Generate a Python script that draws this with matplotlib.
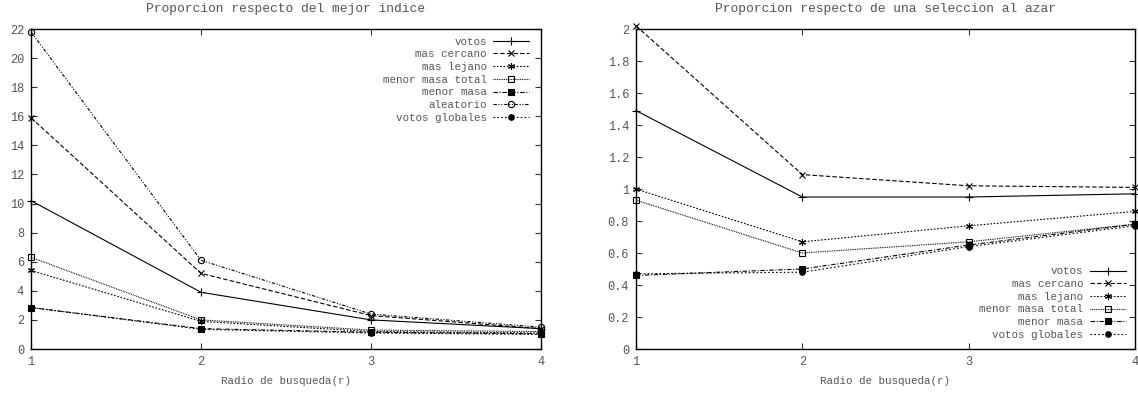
import matplotlib
matplotlib.use('Agg')
import matplotlib.pyplot as plt

plt.rcParams['font.family'] = ['Liberation Mono', 'DejaVu Sans Mono']
plt.rcParams['font.size'] = 7.8

radios = [1, 2, 3, 4]

# izquierda: proporcion respecto del mejor indice
izq_votos = [10.2, 3.9, 2.0, 1.4]
izq_cercano = [15.9, 5.2, 2.3, 1.4]
izq_lejano = [5.4, 1.9, 1.2, 1.1]
izq_masa_total = [6.3, 2.0, 1.3, 1.2]
izq_menor_masa = [2.85, 1.4, 1.15, 1.05]
izq_aleatorio = [21.8, 6.1, 2.4, 1.5]
izq_globales = [2.85, 1.35, 1.1, 1.0]

# derecha: proporcion respecto de una seleccion al azar
der_votos = [1.49, 0.95, 0.95, 0.97]
der_cercano = [2.02, 1.09, 1.02, 1.01]
der_lejano = [1.0, 0.67, 0.77, 0.86]
der_masa_total = [0.93, 0.60, 0.67, 0.78]
der_menor_masa = [0.46, 0.50, 0.65, 0.78]
der_globales = [0.47, 0.48, 0.64, 0.77]

estilos = {
    'votos': dict(ls='-', marker='+', ms=6, mfc='none'),
    'mas cercano': dict(ls=(0, (4, 2)), marker='x', ms=4, mfc='none'),
    'mas lejano': dict(ls=(0, (1.5, 1.5)), marker=(6, 2, 0), ms=5, mfc='none'),
    'menor masa total': dict(ls=(0, (0.8, 0.8)), marker='s', ms=4.5, mfc='none'),
    'menor masa': dict(ls=(0, (4, 1.5, 1, 1.5)), marker='s', ms=4.5, mfc='black'),
    'aleatorio': dict(ls=(0, (3, 1.5, 1, 1.5, 1, 1.5)), marker='o', ms=4.5, mfc='none'),
    'votos globales': dict(ls=(0, (1.5, 2)), marker='o', ms=4, mfc='black'),
}


def dibujar(ax, series, titulo, ymax, yticks, yfmt, loc, anchor):
    for nombre, valores in series:
        ax.plot(radios, valores, color='black', lw=0.8, mew=0.8, mec='black',
                label=nombre, clip_on=False, **estilos[nombre])
    ax.set_xlim(1, 4)
    ax.set_ylim(0, ymax)
    ax.set_xticks(radios)
    ax.set_yticks(yticks)
    ax.set_yticklabels([yfmt(v) for v in yticks])
    ax.tick_params(direction='in', top=True, right=True, length=4, width=0.8,
                   colors='#333333', labelcolor='#555555', labelsize=8.6, pad=5)
    for s in ax.spines.values():
        s.set_linewidth(1.0)
    ax.set_title(titulo, color='#555555', pad=12)
    ax.set_xlabel('Radio de busqueda(r)', color='#555555', labelpad=6)
    leg = ax.legend(loc=loc, bbox_to_anchor=anchor, frameon=False, markerfirst=False,
                    handlelength=3.3, handletextpad=0.6, labelspacing=0.25,
                    borderaxespad=0)
    for t in leg.get_texts():
        t.set_ha('right')
        t.set_color('#555555')
    leg._legend_box.align = 'right'


def fmt_izq(v):
    return '%d' % v


def fmt_der(v):
    return '%g' % round(v, 1)


fig = plt.figure(figsize=(11.38, 3.94), dpi=100)
ax1 = fig.add_axes([31 / 1138, 45 / 394, 510 / 1138, 320 / 394])
ax2 = fig.add_axes([636 / 1138, 45 / 394, 499 / 1138, 320 / 394])

dibujar(ax1, [('votos', izq_votos), ('mas cercano', izq_cercano),
              ('mas lejano', izq_lejano), ('menor masa total', izq_masa_total),
              ('menor masa', izq_menor_masa), ('aleatorio', izq_aleatorio),
              ('votos globales', izq_globales)],
        'Proporcion respecto del mejor indice', 22, list(range(0, 23, 2)), fmt_izq,
        'upper right', (0.985, 0.99))

dibujar(ax2, [('votos', der_votos), ('mas cercano', der_cercano),
              ('mas lejano', der_lejano), ('menor masa total', der_masa_total),
              ('menor masa', der_menor_masa), ('votos globales', der_globales)],
        'Proporcion respecto de una seleccion al azar', 2,
        [i / 5 for i in range(11)], fmt_der,
        'lower right', (0.99, 0.015))

fig.savefig('out.png', dpi=100)
plt.close()
